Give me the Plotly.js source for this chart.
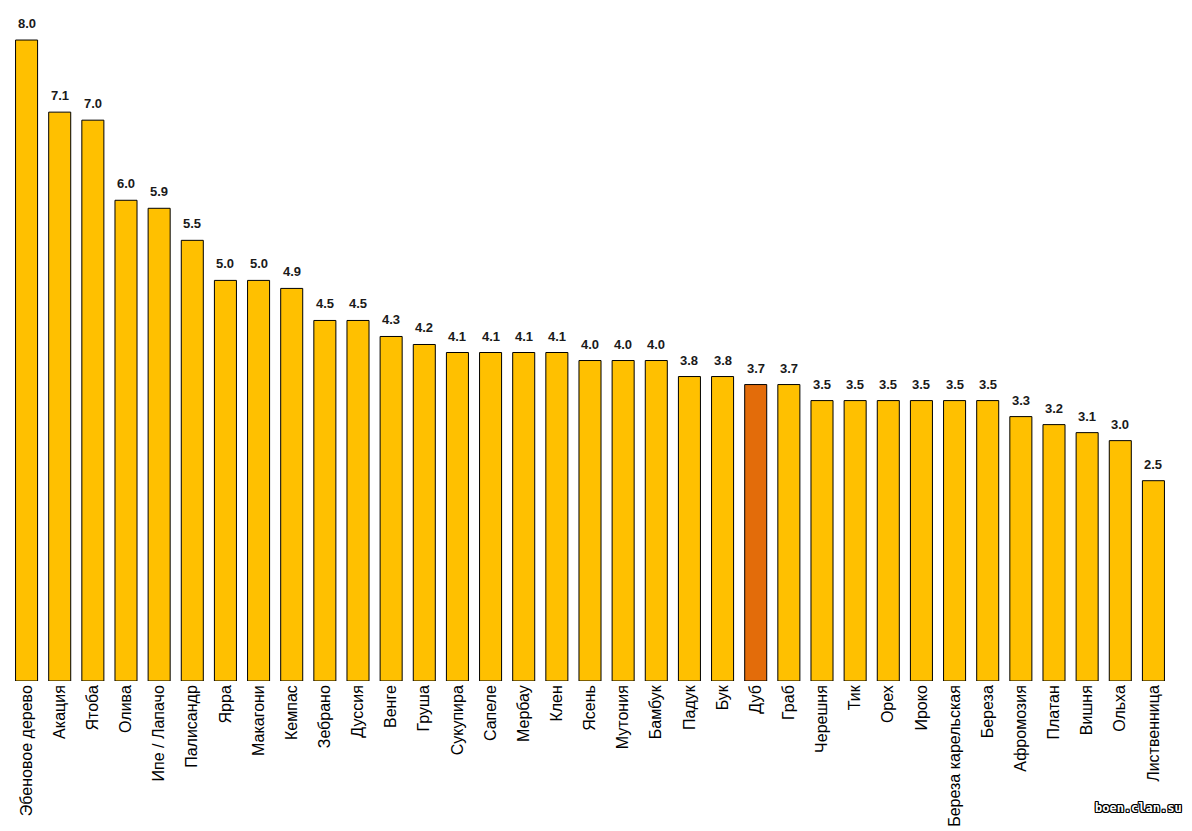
<!DOCTYPE html>
<html>
<head>
<meta charset="utf-8">
<script src="https://cdn.plot.ly/plotly-3.0.1.min.js"></script>
<style>html,body{margin:0;padding:0;background:#fff;}#chart{width:1192px;height:831px;}</style>
</head>
<body>
<div id="chart"></div>
<script>
const categories = ["Эбеновое дерево","Акация","Ятоба","Олива","Ипе / Лапачо","Палисандр","Ярра","Макагони","Кемпас","Зебрано","Дуссия","Венге","Груша","Сукупира","Сапеле","Мербау","Клен","Ясень","Мутония","Бамбук","Падук","Бук","Дуб","Граб","Черешня","Тик","Орех","Ироко","Береза карельская","Береза","Афромозия","Платан","Вишня","Ольха","Лиственница"];
const values = [8.0,7.1,7.0,6.0,5.9,5.5,5.0,5.0,4.9,4.5,4.5,4.3,4.2,4.1,4.1,4.1,4.1,4.0,4.0,4.0,3.8,3.8,3.7,3.7,3.5,3.5,3.5,3.5,3.5,3.5,3.3,3.2,3.1,3.0,2.5];
const highlight = "Дуб";

const colors = categories.map(c => c === highlight ? "#E36C0A" : "#FFC000");

const annotations = categories.map((c, i) => ({
  x: c, y: values[i], xref: "x", yref: "y",
  text: values[i].toFixed(1), showarrow: false,
  yanchor: "bottom", yshift: 7,
  font: {family: "Liberation Sans, Arial, sans-serif", size: 13, color: "#1a1a1a", weight: "bold"}
}));
annotations.push({
  xref: "paper", yref: "paper", x: 1.012, y: -0.205, xanchor: "right", yanchor: "bottom",
  text: "<b>boen.clan.su</b>", showarrow: false,
  font: {family: "DejaVu Sans Mono, monospace", size: 12, color: "#ffffff",
         shadow: "-1px -1px 0 #000, 1px -1px 0 #000, -1px 1px 0 #000, 1px 1px 0 #000, 0 1px 0 #000, 0 -1px 0 #000, 1px 0 0 #000, -1px 0 0 #000"}
});

Plotly.newPlot("chart", [{
  type: "bar",
  x: categories,
  y: values,
  marker: {color: colors, line: {color: "#000000", width: 1}},
  hoverinfo: "x+y"
}], {
  width: 1192, height: 831,
  margin: {l: 10, r: 22, t: 16, b: 150},
  bargap: 0.335,
  paper_bgcolor: "#ffffff",
  plot_bgcolor: "#ffffff",
  showlegend: false,
  xaxis: {
    tickangle: -90,
    tickfont: {family: "Liberation Sans, Arial, sans-serif", size: 16, color: "#000"},
    showline: false, showgrid: false, zeroline: false, ticks: "", ticklen: 0
  },
  yaxis: {
    range: [0, 8.3], visible: false, showgrid: false, zeroline: false
  },
  annotations: annotations
}, {staticPlot: true});
</script>
</body>
</html>
